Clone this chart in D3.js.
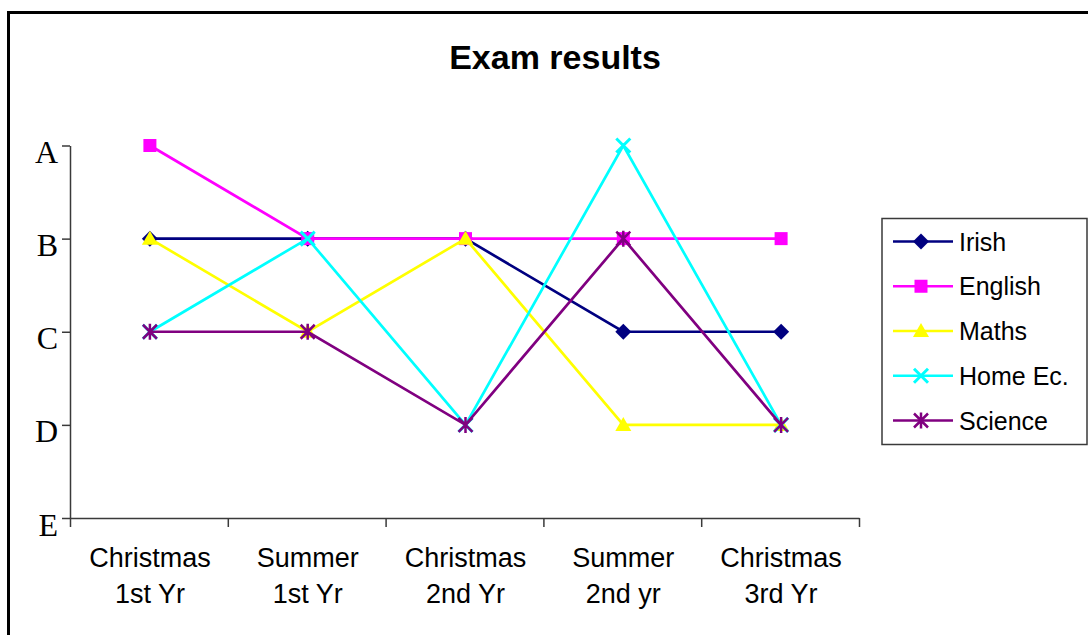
<!DOCTYPE html>
<html>
<head>
<meta charset="utf-8">
<script src="https://cdn.jsdelivr.net/npm/d3@7"></script>
<style>
  html, body { margin: 0; padding: 0; background: #fff; }
  svg { display: block; }
</style>
</head>
<body>
<svg id="chart" width="1088" height="635"></svg>
<script>
// Exam grades per term, one array per subject
const terms = [
  ["Christmas", "1st Yr"],
  ["Summer", "1st Yr"],
  ["Christmas", "2nd Yr"],
  ["Summer", "2nd yr"],
  ["Christmas", "3rd Yr"]
];
const grades = ["A", "B", "C", "D", "E"];
const subjects = ["Irish", "English", "Maths", "Home Ec.", "Science"];
const irish   = ["B", "B", "B", "C", "C"];
const english = ["A", "B", "B", "B", "B"];
const maths   = ["B", "C", "B", "D", "D"];
const homeEc  = ["C", "B", "D", "A", "D"];
const science = ["C", "C", "D", "B", "D"];

const colors  = ["#000080", "#FF00FF", "#FFFF00", "#00FFFF", "#800080"];
const markers = ["diamond", "square", "triangle", "cross", "star"];
const seriesValues = [irish, english, maths, homeEc, science];

const svg = d3.select("#chart");

// outer frame
svg.append("rect")
  .attr("x", 8.5).attr("y", 12.5)
  .attr("width", 1100).attr("height", 640)
  .attr("fill", "#fff").attr("stroke", "#000").attr("stroke-width", 3);

// title
svg.append("text")
  .attr("x", 555).attr("y", 69)
  .attr("text-anchor", "middle")
  .attr("font-family", "Liberation Sans, Arial, sans-serif")
  .attr("font-weight", "bold")
  .attr("font-size", 34)
  .attr("fill", "#000")
  .text("Exam results");

const plotLeft = 70, plotRight = 859, plotTop = 145.5, plotBottom = 518;
const termKeys = terms.map(t => t.join(" "));

const x = d3.scalePoint().domain(termKeys).range([plotLeft + 1, plotRight + 1]).padding(0.5);
const xEdges = d3.scaleLinear().domain([0, terms.length]).range([plotLeft, plotRight]);
const y = d3.scalePoint().domain(grades).range([plotTop, plotBottom]);

const axisColor = "#3a3a3a";

// y axis
const yAxis = svg.append("g")
  .attr("transform", `translate(${plotLeft},0)`)
  .call(d3.axisLeft(y).tickSize(8).tickSizeOuter(0).tickPadding(4));
yAxis.select(".domain").attr("stroke", axisColor).attr("stroke-width", 1.5);
yAxis.selectAll(".tick line").attr("stroke", axisColor).attr("stroke-width", 1.5);
yAxis.selectAll(".tick text")
  .attr("dy", null).attr("y", 17)
  .attr("font-family", "Liberation Serif, Times New Roman, serif")
  .attr("font-size", 32)
  .attr("fill", "#000");

// x axis: ticks between categories
const xAxis = svg.append("g")
  .attr("transform", `translate(0,${plotBottom})`)
  .call(d3.axisBottom(xEdges).tickValues(d3.range(terms.length + 1)).tickSize(9).tickSizeOuter(0).tickFormat(""));
xAxis.select(".domain").attr("stroke", axisColor).attr("stroke-width", 1.5);
xAxis.selectAll(".tick line").attr("stroke", axisColor).attr("stroke-width", 1.5);

// category labels (two lines)
const labels = svg.append("g")
  .attr("font-family", "Liberation Sans, Arial, sans-serif")
  .attr("font-size", 27)
  .attr("fill", "#000")
  .attr("text-anchor", "middle");
terms.forEach((t, i) => {
  const txt = labels.append("text").attr("x", x(termKeys[i])).attr("y", 567);
  txt.append("tspan").attr("x", x(termKeys[i])).attr("y", 567).text(t[0]);
  txt.append("tspan").attr("x", x(termKeys[i])).attr("y", 603).text(t[1]);
});

// marker shapes
function drawMarker(g, type, cx, cy, color) {
  if (type === "diamond") {
    g.append("path").attr("d", `M${cx},${cy - 8}L${cx + 8},${cy}L${cx},${cy + 8}L${cx - 8},${cy}Z`).attr("fill", color);
  } else if (type === "square") {
    g.append("rect").attr("x", cx - 6.5).attr("y", cy - 6.5).attr("width", 13).attr("height", 13).attr("fill", color);
  } else if (type === "triangle") {
    g.append("path").attr("d", `M${cx},${cy - 8}L${cx + 8},${cy + 6}L${cx - 8},${cy + 6}Z`).attr("fill", color);
  } else if (type === "cross") {
    g.append("path").attr("d", `M${cx - 7},${cy - 7}L${cx + 7},${cy + 7}M${cx + 7},${cy - 7}L${cx - 7},${cy + 7}`)
      .attr("stroke", color).attr("stroke-width", 3).attr("fill", "none");
  } else if (type === "star") {
    g.append("path").attr("d", `M${cx - 7},${cy - 7}L${cx + 7},${cy + 7}M${cx + 7},${cy - 7}L${cx - 7},${cy + 7}M${cx},${cy - 8}L${cx},${cy + 8}`)
      .attr("stroke", color).attr("stroke-width", 2.5).attr("fill", "none");
  }
}

// series lines and markers
const line = d3.line().x((d, i) => x(termKeys[i])).y(d => y(d));
subjects.forEach((name, s) => {
  const g = svg.append("g");
  g.append("path")
    .attr("d", line(seriesValues[s]))
    .attr("fill", "none")
    .attr("stroke", colors[s])
    .attr("stroke-width", 2.7);
  seriesValues[s].forEach((v, i) => drawMarker(g, markers[s], x(termKeys[i]), y(v), colors[s]));
});

// legend
const legend = svg.append("g");
legend.append("rect")
  .attr("x", 882).attr("y", 218.5)
  .attr("width", 205).attr("height", 226)
  .attr("fill", "#fff").attr("stroke", axisColor).attr("stroke-width", 1.5);
const legendY = d3.scalePoint().domain(subjects).range([241.5, 420.5]);
subjects.forEach((name, s) => {
  const cy = legendY(name);
  legend.append("line")
    .attr("x1", 893).attr("x2", 953).attr("y1", cy).attr("y2", cy)
    .attr("stroke", colors[s]).attr("stroke-width", 2.7);
  drawMarker(legend, markers[s], 921, cy, colors[s]);
  legend.append("text")
    .attr("x", 959).attr("y", cy + 9)
    .attr("font-family", "Liberation Sans, Arial, sans-serif")
    .attr("font-size", 25)
    .attr("fill", "#000")
    .text(name);
});
</script>
</body>
</html>
